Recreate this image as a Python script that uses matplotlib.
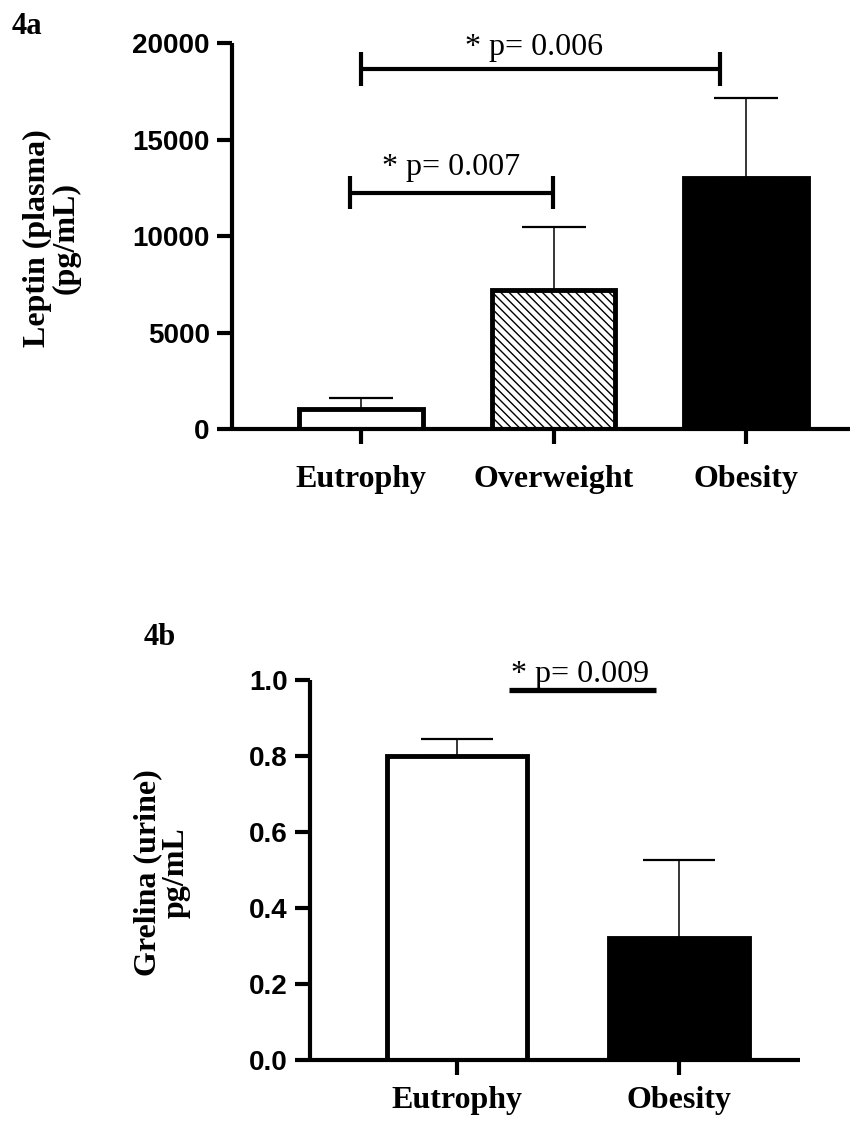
import matplotlib
matplotlib.use("Agg")
import matplotlib.pyplot as plt
import numpy as np

# data
groups_a = ["Eutrophy", "Overweight", "Obesity"]
leptin_mean = [1020, 7200, 13000]
leptin_err = [600, 3300, 4180]

groups_b = ["Eutrophy", "Obesity"]
grelina_mean = [0.80, 0.32]
grelina_err = [0.044, 0.206]

SANS = "Liberation Sans"
SERIF = "Liberation Serif"
LW = 3.0
BAR_LW = 3.5
plt.rcParams["hatch.linewidth"] = 1.0

fig = plt.figure(figsize=(8.65, 11.24), dpi=100)
ax1 = fig.add_axes([0.2682, 0.6183, 0.7145, 0.3432])
ax2 = fig.add_axes([0.3584, 0.0569, 0.5665, 0.3381])


def style(ax, xpad):
    for s in ("top", "right"):
        ax.spines[s].set_visible(False)
    for s in ("left", "bottom"):
        ax.spines[s].set_linewidth(LW)
        ax.spines[s].set_capstyle("butt")
    ax.tick_params(axis="both", direction="out", length=11, width=LW, pad=5)
    for lab in ax.get_yticklabels():
        lab.set_fontfamily(SANS)
        lab.set_fontweight("bold")
        lab.set_fontsize(20)
    for lab in ax.get_xticklabels():
        lab.set_fontfamily(SERIF)
        lab.set_fontweight("bold")
        lab.set_fontsize(23)
    ax.tick_params(axis="x", pad=xpad)


# ---- 4a: leptin ----
xa = np.arange(len(groups_a))
ax1.errorbar(xa, leptin_mean, yerr=[np.zeros(len(xa)), leptin_err], fmt="none",
             ecolor="black", elinewidth=1.1, capsize=23, capthick=1.6, zorder=1)
ax1.bar(xa, leptin_mean, width=0.64, color=["white", "white", "black"],
        edgecolor="black", linewidth=BAR_LW, hatch=[None, "\\\\\\\\", None], zorder=2)
ax1.set_xlim(-0.67, 2.54)
ax1.set_ylim(0, 20000)
ax1.set_yticks([0, 5000, 10000, 15000, 20000])
ax1.set_xticks(xa)
ax1.set_xticklabels(groups_a)
style(ax1, 15)

# significance brackets
def bracket(ax, x0, x1, y, h):
    ax.plot([x0, x1], [y, y], color="black", lw=LW, solid_capstyle="butt", clip_on=False)
    for xx in (x0, x1):
        ax.plot([xx, xx], [y - h, y + h], color="black", lw=LW, solid_capstyle="butt",
                clip_on=False)

bracket(ax1, 0.0, 1.865, 18670, 880)
bracket(ax1, -0.057, 0.997, 12240, 855)
ax1.text(0.9, 19400, "* p= 0.006", family=SERIF, fontsize=23, ha="center", va="baseline")
ax1.text(0.47, 13170, "* p= 0.007", family=SERIF, fontsize=23, ha="center", va="baseline")

# ---- 4b: grelina ----
xb = np.arange(len(groups_b))
ax2.errorbar(xb, grelina_mean, yerr=[np.zeros(len(xb)), grelina_err], fmt="none",
             ecolor="black", elinewidth=1.1, capsize=26, capthick=1.6, zorder=1)
ax2.bar(xb, grelina_mean, width=0.63, color=["white", "black"],
        edgecolor="black", linewidth=BAR_LW, zorder=2)
ax2.set_xlim(-0.66, 1.545)
ax2.set_ylim(0, 1.0)
ax2.set_yticks([0.0, 0.2, 0.4, 0.6, 0.8, 1.0])
ax2.set_yticklabels(["0.0", "0.2", "0.4", "0.6", "0.8", "1.0"])
ax2.set_xticks(xb)
ax2.set_xticklabels(groups_b)
style(ax2, 8)

ax2.plot([0.234, 0.896], [0.974, 0.974], color="black", lw=3.8, solid_capstyle="butt",
         clip_on=False)
ax2.text(0.554, 0.9955, "* p= 0.009", family=SERIF, fontsize=23, ha="center", va="baseline")

# axis titles and panel labels
fig.text(0.060, 0.788, "Leptin (plasma)\n(pg/mL)", rotation=90, ha="center", va="center",
         multialignment="center", family=SERIF, fontweight="bold", fontsize=23,
         linespacing=0.95)
fig.text(0.187, 0.2233, "Grelina (urine)\npg/mL", rotation=90, ha="center", va="center",
         multialignment="center", family=SERIF, fontweight="bold", fontsize=23,
         linespacing=0.95)
fig.text(0.014, 0.976, "4a", family=SERIF, fontweight="bold", fontsize=22, ha="left",
         va="center")
fig.text(0.166, 0.433, "4b", family=SERIF, fontweight="bold", fontsize=22, ha="left",
         va="center")

fig.savefig("out.png", dpi=100)
